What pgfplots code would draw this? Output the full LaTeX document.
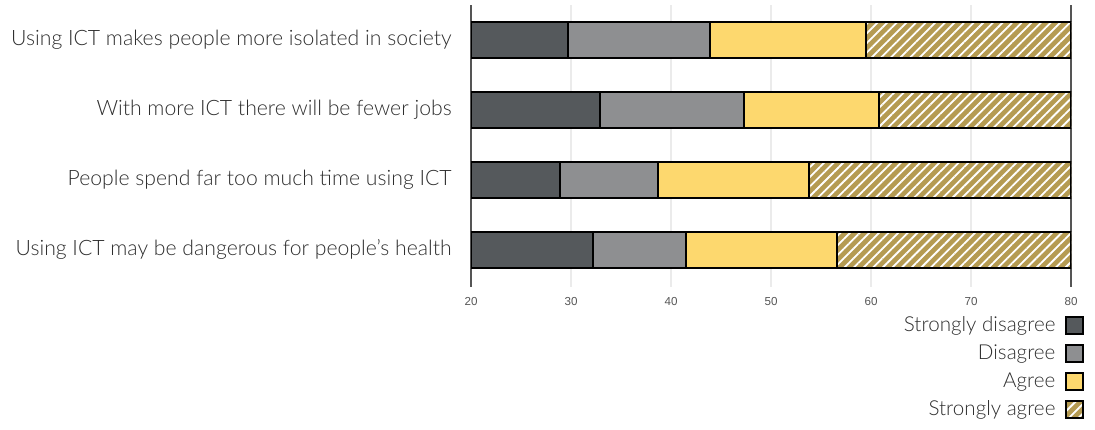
\documentclass[border=0pt]{standalone}
\usepackage{pgfplots}
\pgfplotsset{compat=1.18}
\usepackage{fontspec}
\setmainfont{Lato Light}
\newfontfamily\tickfont{Liberation Sans}
\usetikzlibrary{patterns.meta}
\definecolor{cDark}{HTML}{55595C}
\definecolor{cGray}{HTML}{8E8F91}
\definecolor{cYellow}{HTML}{FDD86E}
\definecolor{cKhaki}{HTML}{B59B52}
\definecolor{gridc}{HTML}{EBEBEB}
\definecolor{axc}{HTML}{555555}
\definecolor{txt}{HTML}{2E2E2E}
\begin{document}
\begin{tikzpicture}
\useasboundingbox (0,0) rectangle (547.5pt,214.5pt);
\begin{axis}[
  at={(235.5pt,212pt)}, anchor=north west,
  scale only axis, width=300pt, height=141pt,
  xbar stacked, bar width=18pt,
  xmin=20, xmax=80, ymin=-0.5, ymax=3.53, y dir=reverse,
  xtick={20,30,...,80},
  ytick={0,1,2,3},
  yticklabels={Using ICT makes people more isolated in society,
               With more ICT there will be fewer jobs,
               People spend far too much time using ICT,
               Using ICT may be dangerous for people’s health},
  major tick length=0pt,
  /pgf/number format/assume math mode=true,
  xticklabel style={font=\tickfont\fontsize{5.8}{7}\selectfont, text=axc, inner sep=0pt, yshift=-4.75pt},
  yticklabel style={font=\fontsize{10.6}{13}\selectfont, text=txt, inner sep=0pt, xshift=-9.5pt},
  xmajorgrids, major grid style={draw=gridc, line width=1pt},
  separate axis lines,
  x axis line style={draw=none},
  y axis line style={draw=axc, line width=0.6pt},
  legend plot pos=right,
  legend cell align=right,
  legend image code/.code={\draw[#1] (0pt,-4.25pt) rectangle (8.5pt,4.25pt);},
  legend style={at={(axis description cs:1,0)}, anchor=north east, xshift=6.5pt, yshift=-12pt,
    draw=none, fill=none, inner sep=0pt, row sep=0pt,
    font=\fontsize{10.3}{12}\selectfont, text=txt,
    nodes={inner sep=0pt, minimum height=14pt},
    /tikz/every odd column/.style={column sep=5pt}},
]
\addplot[fill=cDark, draw=black, line width=0.6pt] coordinates {(29.7,0) (32.9,1) (28.9,2) (32.2,3)};
\addplot[fill=cGray, draw=black, line width=0.6pt] coordinates {(14.2,0) (14.4,1) (9.8,2) (9.3,3)};
\addplot[fill=cYellow, draw=black, line width=0.6pt] coordinates {(15.6,0) (13.5,1) (15.1,2) (15.1,3)};
\addplot[fill=cKhaki, draw=black, line width=0.6pt,
  postaction={pattern={Lines[angle=45,distance=3.4pt,line width=0.9pt]}, pattern color=white}]
  coordinates {(20.5,0) (19.2,1) (26.2,2) (23.4,3)};
\legend{Strongly disagree, Disagree, Agree, Strongly agree}
\end{axis}
\end{tikzpicture}
\end{document}
